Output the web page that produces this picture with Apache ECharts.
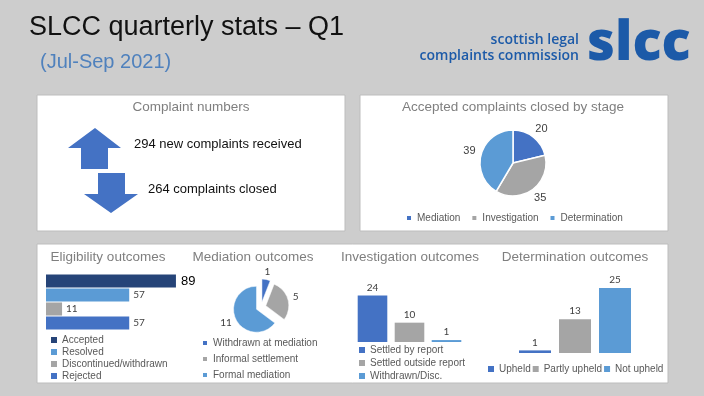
<!DOCTYPE html>
<html>
<head>
<meta charset="utf-8">
<script src="https://cdn.jsdelivr.net/npm/echarts@6/dist/echarts.min.js"></script>
<style>html,body{margin:0;padding:0;background:#cdcdcd;}#c{width:704px;height:396px;}</style>
</head>
<body>
<div id="c"></div>
<script>
// ---- data ----
const complaintCounts = [294, 264];
const complaintTexts = ['new complaints received', 'complaints closed'];

const stageNames = ['Mediation', 'Investigation', 'Determination'];
const stageValues = [20, 35, 39];

const eligNames = ['Accepted', 'Resolved', 'Discontinued/withdrawn', 'Rejected'];
const eligValues = [89, 57, 11, 57];

const medNames = ['Withdrawn at mediation', 'Informal settlement', 'Formal mediation'];
const medValues = [1, 5, 11];

const invNames = ['Settled by report', 'Settled outside report', 'Withdrawn/Disc.'];
const invValues = [24, 10, 1];

const detNames = ['Upheld', 'Partly upheld', 'Not upheld'];
const detValues = [1, 13, 25];

// ---- styles ----
const C_DARK = '#4472C4', C_GREY = '#A5A5A5', C_LIGHT = '#5B9BD5', C_NAVY = '#264478';
const stageColors = [C_DARK, C_GREY, C_LIGHT];
const eligColors = [C_NAVY, C_LIGHT, C_GREY, C_DARK];
const triColors = [C_DARK, C_GREY, C_LIGHT];
const SANS = 'Liberation Sans';
const titleColor = '#7f7f7f';
const legendText = { fontSize: 10, color: '#595959', fontFamily: SANS };

function hiddenAxis(extra) {
  return Object.assign({
    axisLine: { show: false }, axisTick: { show: false },
    axisLabel: { show: false }, splitLine: { show: false }
  }, extra);
}
function panelTitle(text, x, y) {
  return { text: text, left: x, top: y, textAlign: 'center', padding: 0,
    textStyle: { fontSize: 13.5, fontWeight: 'normal', color: titleColor, fontFamily: SANS } };
}
function legendBase(extra) {
  return Object.assign({ icon: 'rect', itemWidth: 6, itemHeight: 6, itemTextGap: 1,
    padding: 0, selectedMode: false, textStyle: legendText }, extra);
}

const series = [];

// Eligibility (horizontal bars, one series per category, stacked into one slot)
eligNames.forEach(function (name, i) {
  series.push({
    type: 'bar', name: name, xAxisIndex: 0, yAxisIndex: 0, stack: 'elig',
    barCategoryGap: '7%',
    itemStyle: { color: eligColors[i] },
    label: i === 0
      ? { show: true, position: 'right', distance: 5, fontSize: 13, color: '#000', fontFamily: SANS }
      : { show: true, position: 'right', distance: 4, fontSize: 10, color: '#404040', fontFamily: 'Lato' },
    data: eligNames.map(function (_, j) { return j === i ? eligValues[i] : '-'; })
  });
});

// Investigation
invNames.forEach(function (name, i) {
  series.push({
    type: 'bar', name: name, xAxisIndex: 1, yAxisIndex: 1, stack: 'inv',
    barCategoryGap: '20%',
    itemStyle: { color: triColors[i] },
    label: { show: true, position: 'top', distance: 3, fontSize: 10, color: '#404040', fontFamily: 'Lato' },
    data: invNames.map(function (_, j) { return j === i ? invValues[i] : '-'; })
  });
});

// Determination
detNames.forEach(function (name, i) {
  series.push({
    type: 'bar', name: name, xAxisIndex: 2, yAxisIndex: 2, stack: 'det',
    barCategoryGap: '20%',
    itemStyle: { color: triColors[i] },
    label: { show: true, position: 'top', distance: 3, fontSize: 10, color: '#404040', fontFamily: 'Lato' },
    data: detNames.map(function (_, j) { return j === i ? detValues[i] : '-'; })
  });
});

// Accepted complaints closed by stage pie
series.push({
  type: 'pie', name: 'stage', center: [513, 163], radius: 33, startAngle: 90, clockwise: true,
  avoidLabelOverlap: false, silent: true,
  itemStyle: { borderColor: '#fff', borderWidth: 1.5 },
  label: { show: true, position: 'outside', fontSize: 11, color: '#404040', fontFamily: SANS,
    formatter: '{c}', distanceToLabelLine: -5 },
  labelLine: { show: true, length: 11, length2: 0, lineStyle: { opacity: 0 } },
  data: stageNames.map(function (n, i) { return { name: n, value: stageValues[i], itemStyle: { color: stageColors[i] } }; })
});

// Mediation outcomes exploded pie
series.push({
  type: 'pie', name: 'med', center: [261, 307], radius: 23, startAngle: 90, clockwise: true,
  avoidLabelOverlap: false, selectedMode: 'multiple', selectedOffset: 5,
  itemStyle: { borderColor: '#fff', borderWidth: 0.5 },
  select: { itemStyle: { borderColor: '#fff', borderWidth: 0.5 } },
  label: { show: true, position: 'outside', fontSize: 10, color: '#404040', fontFamily: 'Lato',
    formatter: '{c}', distanceToLabelLine: -3 },
  labelLine: { show: true, length: 8, length2: 0, lineStyle: { opacity: 0 } },
  data: medNames.map(function (n, i) { return { name: n, value: medValues[i], selected: true, itemStyle: { color: triColors[i] } }; })
});

const option = {
  backgroundColor: '#cdcdcd',
  animation: false,
  title: [
    { text: 'SLCC quarterly stats \u2013 Q1', left: 29, top: 14, padding: 0,
      textStyle: { fontSize: 27, fontWeight: 'normal', color: '#111', fontFamily: SANS } },
    { text: '(Jul-Sep 2021)', left: 40, top: 52, padding: 0,
      textStyle: { fontSize: 20, fontWeight: 'normal', color: '#4F81BD', fontFamily: SANS } },
    panelTitle('Complaint numbers', 191, 100),
    panelTitle('Accepted complaints closed by stage', 513, 100),
    panelTitle('Eligibility outcomes', 108, 250),
    panelTitle('Mediation outcomes', 253, 250),
    panelTitle('Investigation outcomes', 410, 250),
    panelTitle('Determination outcomes', 575, 250)
  ],
  graphic: [
    { type: 'rect', z: -10, shape: { x: 37, y: 95, width: 308, height: 136 }, style: { fill: '#fff', stroke: '#bdbdbd', lineWidth: 1 } },
    { type: 'rect', z: -10, shape: { x: 360, y: 95, width: 308, height: 136 }, style: { fill: '#fff', stroke: '#bdbdbd', lineWidth: 1 } },
    { type: 'rect', z: -10, shape: { x: 37, y: 244, width: 631, height: 139 }, style: { fill: '#fff', stroke: '#bdbdbd', lineWidth: 1 } },
    { type: 'polygon', z: 5, shape: { points: [[95,128],[121,148],[108,148],[108,169],[81,169],[81,148],[68,148]] }, style: { fill: C_DARK } },
    { type: 'polygon', z: 5, shape: { points: [[98,173],[125,173],[125,194],[138,194],[111,213],[84,194],[98,194]] }, style: { fill: C_DARK } },
    { type: 'text', z: 5, style: { text: complaintCounts[0] + ' ' + complaintTexts[0], x: 134, y: 144, verticalAlign: 'middle',
      font: '13px "Liberation Sans"', fill: '#111' } },
    { type: 'text', z: 5, style: { text: complaintCounts[1] + ' ' + complaintTexts[1], x: 148, y: 189, verticalAlign: 'middle',
      font: '13px "Liberation Sans"', fill: '#111' } },
    { type: 'text', z: 5, style: { text: 'scottish legal', x: 579, y: 40, align: 'right', verticalAlign: 'middle',
      font: '600 14px "Open Sans"', fill: '#1c5aa8' } },
    { type: 'text', z: 5, style: { text: 'complaints commission', x: 579, y: 56, align: 'right', verticalAlign: 'middle',
      font: '600 14px "Open Sans"', fill: '#1c5aa8' } },
    { type: 'text', z: 5, style: { text: 'slcc', x: 587, y: 45, align: 'left', verticalAlign: 'middle',
      font: '800 54px "Open Sans"', fill: '#1c5aa8' } }
  ],
  legend: [
    legendBase({ left: 405, top: 213, orient: 'horizontal', itemGap: 10, data: stageNames }),
    legendBase({ left: 51, top: 335, orient: 'vertical', itemGap: 2, data: eligNames }),
    legendBase({ left: 201, top: 338, orient: 'vertical', itemGap: 6, data: medNames }),
    legendBase({ left: 359, top: 345, orient: 'vertical', itemGap: 3, data: invNames }),
    legendBase({ left: 488, top: 364, orient: 'horizontal', itemGap: 2, data: detNames })
  ],
  grid: [
    { left: 46, top: 274, width: 146, height: 56 },
    { left: 354, top: 284, width: 111, height: 58 },
    { left: 515, top: 275, width: 120, height: 78 }
  ],
  xAxis: [
    hiddenAxis({ type: 'value', gridIndex: 0, min: 0, max: 100 }),
    hiddenAxis({ type: 'category', gridIndex: 1, data: invNames }),
    hiddenAxis({ type: 'category', gridIndex: 2, data: detNames })
  ],
  yAxis: [
    hiddenAxis({ type: 'category', gridIndex: 0, inverse: true, data: eligNames }),
    hiddenAxis({ type: 'value', gridIndex: 1, min: 0, max: 30 }),
    hiddenAxis({ type: 'value', gridIndex: 2, min: 0, max: 30 })
  ],
  series: series
};

const chart = echarts.init(document.getElementById('c'), null, { renderer: 'canvas' });
chart.setOption(option);
</script>
</body>
</html>
